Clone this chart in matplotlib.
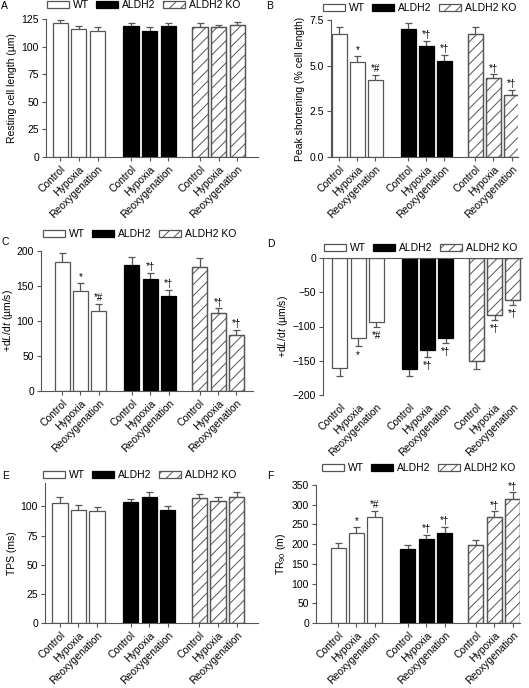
import matplotlib
matplotlib.use("Agg")
import matplotlib.pyplot as plt
from matplotlib.patches import Patch
from matplotlib.transforms import offset_copy

plt.rcParams['font.family'] = ['Liberation Sans', 'DejaVu Sans']
plt.rcParams['mathtext.fontset'] = 'custom'
plt.rcParams['mathtext.rm'] = 'Liberation Sans'
plt.rcParams['mathtext.it'] = 'Liberation Sans:italic'
plt.rcParams['hatch.linewidth'] = 0.7
plt.rcParams['font.size'] = 7.5

# ---------------- data ----------------
conditions = ['Control', 'Hypoxia', 'Reoxygenation']
groups = ['WT', 'ALDH2', 'ALDH2 KO']

resting_mean = [121.5, 115.5, 114.5, 118.5, 114.5, 118.5, 117.5, 117.5, 119.5]
resting_err = [2.5, 3, 3, 2.5, 3, 3, 3.5, 2.5, 2.5]

peak_mean = [6.73, 5.21, 4.20, 6.98, 6.09, 5.27, 6.76, 4.30, 3.42]
peak_err = [0.36, 0.33, 0.28, 0.37, 0.27, 0.34, 0.37, 0.22, 0.27]
peak_sig = ['', '*', '*#', '', '*†', '*†', '', '*†', '*†']

plus_mean = [185, 143, 115, 180, 160, 136, 177, 112, 80]
plus_err = [12, 12, 10, 11, 9, 9, 12.5, 6, 7]
plus_sig = ['', '*', '*#', '', '*†', '*†', '', '*†', '*†']

minus_mean = [-161, -117, -94, -162.5, -134.5, -117.5, -150.5, -82.5, -62]
minus_err = [11, 11, 7, 10, 10, 7, 12, 7.5, 7]
minus_sig = ['', '*', '*#', '', '*†', '*†', '', '*†', '*†']

tps_mean = [103, 97, 96, 104, 108, 97, 107, 105, 108]
tps_err = [5, 4, 3.5, 2.5, 4, 3, 4, 3, 4]

tr_mean = [190, 229, 268, 187, 212, 229, 198, 270, 314]
tr_err = [12, 14, 16, 11, 11, 14, 12, 13, 17]
tr_sig = ['', '*', '*#', '', '*†', '*†', '', '*†', '*†']

# ---------------- layout ----------------
W, H = 529, 688
fig = plt.figure(figsize=(W / 100, H / 100), dpi=100)

group_offsets = [0, 3.8, 7.5]
positions = [g + i for g in group_offsets for i in range(3)]
labels = conditions * 3
facecolors = ['white'] * 3 + ['black'] * 3 + ['white'] * 3
hatches = [''] * 3 + [''] * 3 + ['///'] * 3
EDGE = '#555555'
group_face = {'WT': 'white', 'ALDH2': 'black', 'ALDH2 KO': 'white'}
group_hatch = {'WT': '', 'ALDH2': '', 'ALDH2 KO': '///'}
CAP = 0.19


def add_ax(l, r, t, b):
    return fig.add_axes([l / W, 1 - b / H, (r - l) / W, (b - t) / H])


def panel(box, means, errs, sig, ylim, yticks, ylabel, xlim, letter, letter_xy,
          leg_xy, negative=False, ytickfmt=None, labelpad=3):
    ax = add_ax(*box)
    ax.set_xlim(*xlim)
    ax.set_ylim(*ylim)
    ax.bar(positions, means, width=0.82, color=facecolors,
           edgecolor=[EDGE if fc == 'white' else 'black' for fc in facecolors],
           hatch=None, linewidth=0.9, zorder=2)
    for x, m, fc, h in zip(positions, means, facecolors, hatches):
        if h:
            ax.bar(x, m, width=0.82, color='none', edgecolor=EDGE, hatch=h,
                   linewidth=0.9, zorder=2.1)
    ends = [m - e if negative else m + e for m, e in zip(means, errs)]
    ax.vlines(positions, means, ends, colors=EDGE, linewidth=0.9, zorder=1)
    ax.hlines(ends, [p - CAP for p in positions], [p + CAP for p in positions],
              colors=EDGE, linewidth=0.9, zorder=1)
    if sig is not None:
        down = offset_copy(ax.transData, fig=fig, x=0, y=-3, units='points')
        up = offset_copy(ax.transData, fig=fig, x=0, y=0.5, units='points')
        for x, yend, s in zip(positions, ends, sig):
            if not s:
                continue
            if negative:
                ax.text(x, yend, s, transform=down, ha='center', va='top',
                        fontsize=7, clip_on=False)
            else:
                ax.text(x, yend, s, transform=up, ha='center', va='bottom',
                        fontsize=7, clip_on=False)
    ax.set_yticks(yticks)
    if ytickfmt:
        ax.set_yticklabels([ytickfmt.format(v) for v in yticks])
    ax.set_xticks(positions)
    ax.set_xticklabels(labels, rotation=45, ha='right', rotation_mode='anchor',
                       fontsize=7.5)
    ax.set_ylabel(ylabel, fontsize=7.5, labelpad=labelpad)
    ax.spines['right'].set_visible(False)
    if negative:
        ax.spines['bottom'].set_visible(False)
        ax.spines['top'].set_color(EDGE)
        ax.tick_params(axis='x', length=0, pad=5)
    else:
        ax.spines['top'].set_visible(False)
        ax.spines['bottom'].set_color(EDGE)
        ax.tick_params(axis='x', length=3, color=EDGE, pad=2)
    ax.spines['left'].set_color(EDGE)
    ax.tick_params(axis='y', length=3, color=EDGE, pad=2, labelsize=7.5)
    fig.text(letter_xy[0] / W, 1 - letter_xy[1] / H, letter, fontsize=7.5,
             ha='left', va='center')
    handles = [Patch(facecolor=group_face[g], hatch=group_hatch[g],
                     edgecolor=EDGE if group_face[g] == 'white' else 'black',
                     linewidth=0.9) for g in groups]
    fig.legend(handles, groups, loc='center left',
               bbox_to_anchor=(leg_xy[0] / W, 1 - leg_xy[1] / H),
               ncol=3, frameon=False, fontsize=7.5, borderpad=0, borderaxespad=0,
               handlelength=2.1, handleheight=0.6, handletextpad=0.4,
               columnspacing=0.7)
    return ax


panel((46, 258, 19, 157), resting_mean, resting_err, None, (0, 125),
      [0, 25, 50, 75, 100, 125], 'Resting cell length (µm)', (-0.76, 10.6),
      'A', (1, 6), (47, 5))
panel((331, 518, 20, 157), peak_mean, peak_err, peak_sig, (0, 7.5),
      [0, 2.5, 5.0, 7.5], 'Peak shortening (% cell length)', (-0.45, 9.85),
      'B', (266, 6), (323, 8), ytickfmt='{:.1f}')
panel((41, 253, 251, 391), plus_mean, plus_err, plus_sig, (0, 200),
      [0, 50, 100, 150, 200], '+d$L$/d$t$ (µm/s)', (-1.15, 10.4),
      'C', (2, 242), (43, 234), labelpad=1)
panel((323, 522, 258, 395), minus_mean, minus_err, minus_sig, (-200, 0),
      [-200, -150, -100, -50, 0], '+d$L$/d$t$ (µm/s)', (-0.93, 10.0),
      'D', (267, 244), (324, 248), negative=True, labelpad=2)
panel((45, 258, 483, 623), tps_mean, tps_err, None, (0, 120),
      [0, 25, 50, 75, 100], 'TPS (ms)', (-0.8, 10.65),
      'E', (2, 476), (43, 475))
panel((316, 520, 485, 623), tr_mean, tr_err, tr_sig, (0, 350),
      [0, 50, 100, 150, 200, 250, 300, 350], 'TR$_{90}$ (m)', (-1.2, 9.9),
      'F', (267, 476), (322, 468))

fig.savefig('out.png', dpi=100)
